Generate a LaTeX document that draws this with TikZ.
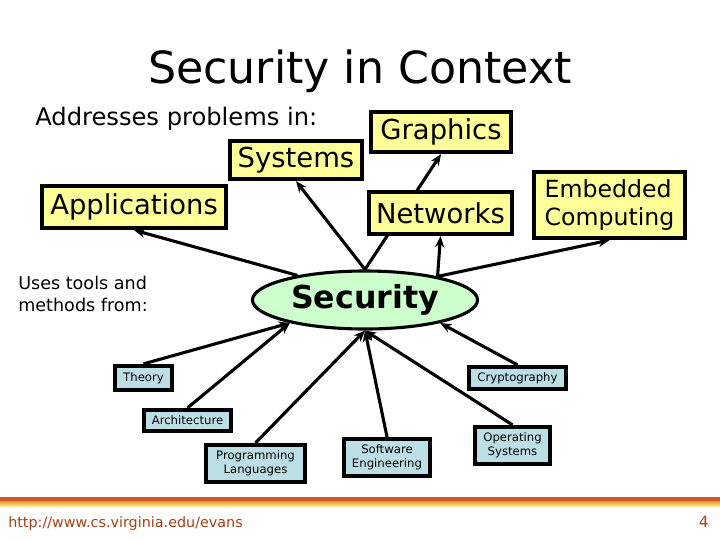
\documentclass[tikz,border=0pt]{standalone}
\usepackage{fontspec}
\setmainfont{DejaVu Sans}
\usetikzlibrary{shapes.geometric,arrows.meta,backgrounds}
\definecolor{Pale}{HTML}{FFFF99}
\definecolor{Ice}{HTML}{BCDFE5}
\definecolor{Mint}{HTML}{CCFFCC}
\definecolor{Rust}{HTML}{A63F14}
\definecolor{Flame}{HTML}{CC5A1E}
\definecolor{Sun}{HTML}{FFF25A}

\begin{document}
\begin{tikzpicture}[
    x=0.025cm,y=-0.025cm,
    area/.style={draw=black, line width=3pt, fill=Pale, inner sep=0pt,
      align=left, font=\fontsize{19.5}{23}\selectfont},
    tool/.style={draw=black, line width=3pt, fill=Ice, inner sep=0pt,
      align=center, font=\fontsize{8.3}{10}\selectfont},
    core/.style={ellipse, draw=black, line width=2.2pt, fill=Mint, inner sep=0pt,
      minimum width=5.625cm, minimum height=1.45cm,
      font=\fontsize{22.5}{26}\selectfont\bfseries},
    link/.style={-{Stealth[length=8pt,width=6.5pt]}, line width=2.2pt}
  ]
    \useasboundingbox (0,0) rectangle (720,540);

    \node[anchor=base, font=\fontsize{31.5}{36}\selectfont] (title) at (360,83) {Security in Context};
    \node[anchor=base west, inner sep=0pt, font=\fontsize{17.2}{20}\selectfont] (addresses) at (35,125) {Addresses problems in:};
    \node[anchor=base west, inner sep=0pt, align=left, font=\fontsize{12.5}{15.5}\selectfont] (uses) at (18,311) {Uses tools and\\methods from:};

    % problem areas
    \node[area, minimum width=3.3cm, minimum height=0.95cm] (systems) at (296,160) {Systems};
    \node[area, minimum width=4.6cm, minimum height=1.05cm] (applications) at (134,207) {Applications};
    \node[area, minimum width=3.5cm, minimum height=1.0cm] (graphics) at (441,132) {Graphics};
    \node[area, minimum width=3.575cm, minimum height=1.05cm] (networks) at (440.5,213) {Networks};
    \node[area, minimum width=3.775cm, minimum height=1.65cm,
      font=\fontsize{16.8}{19.8}\selectfont] (embedded) at (609.5,205) {Embedded\\Computing};

    \node[core] (sec) at (365,300) {Security};

    % tools and methods
    \node[tool, minimum width=1.425cm, minimum height=0.6cm] (theory) at (143.5,378) {Theory};
    \node[tool, minimum width=2.175cm, minimum height=0.525cm] (architecture) at (187.5,420.5) {Architecture};
    \node[tool, minimum width=2.475cm, minimum height=0.925cm] (proglang) at (255.5,463.5) {Programming\\Languages};
    \node[tool, minimum width=2.15cm, minimum height=0.925cm] (softeng) at (387,457.5) {Software\\Engineering};
    \node[tool, minimum width=1.875cm, minimum height=0.925cm] (opsys) at (512.5,445.5) {Operating\\Systems};
    \node[tool, minimum width=2.425cm, minimum height=0.55cm] (crypto) at (517.5,378) {Cryptography};

    \begin{scope}[on background layer]
      \draw[link] (sec.160) -- (applications.south);
      \draw[link] (sec.north) -- (systems.south);
      \draw[link] (sec.north) -- (graphics.south);
      \draw[link] (sec.18) -- (networks.south);
      \draw[link] (sec.18) -- (embedded.south);
      \draw[link] (theory.north) -- (sec.197);
      \draw[link] (architecture.north) -- (sec.197);
      \draw[link] (proglang.north) -- (sec.south);
      \draw[link] (softeng.north) -- (sec.south);
      \draw[link] (opsys.north) -- (sec.south);
      \draw[link] (crypto.north) -- (sec.343);
    \end{scope}

    % footer
    \fill[Flame] (0,497) rectangle (720,501);
    \shade[top color=Flame!60!Sun, bottom color=Sun!50!white] (0,501) rectangle (720,507);
    \node[anchor=base west, inner sep=0pt, text=Rust, font=\fontsize{10.2}{12}\selectfont] (url) at (8,527) {http://www.cs.virginia.edu/evans};
    \node[anchor=base east, inner sep=0pt, text=Rust, font=\fontsize{11}{13}\selectfont] (pagenum) at (709,527) {4};
\end{tikzpicture}
\end{document}
